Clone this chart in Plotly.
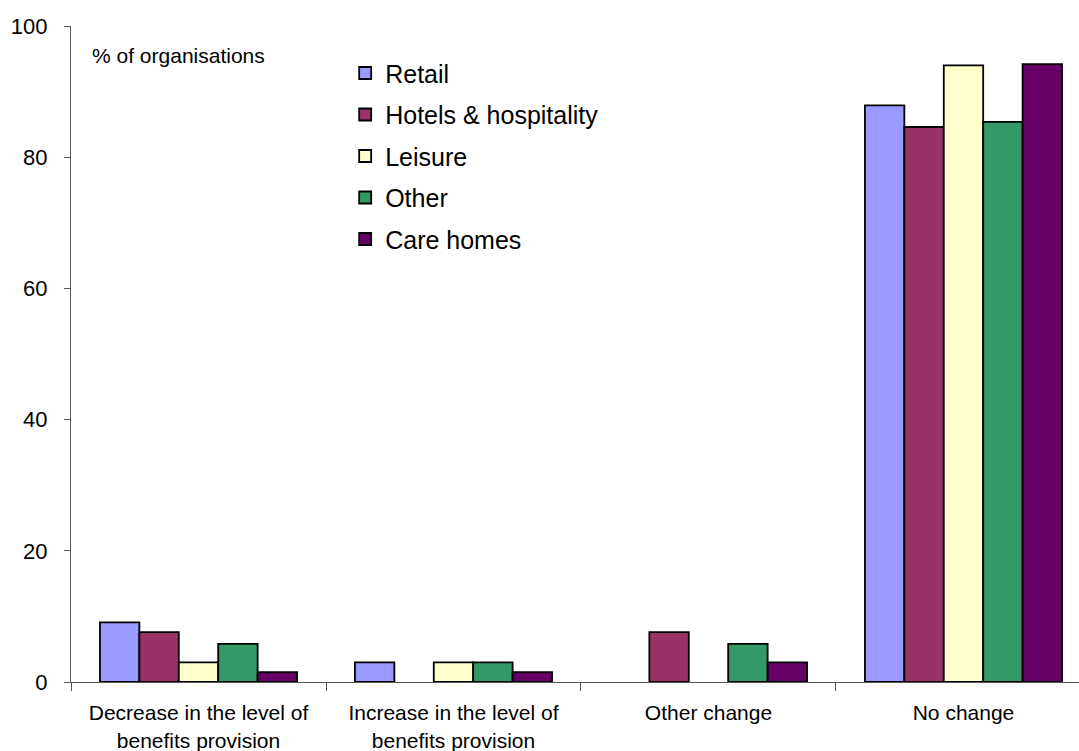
import plotly.graph_objects as go

categories = [
    "Decrease in the level of<br>benefits provision",
    "Increase in the level of<br>benefits provision",
    "Other change",
    "No change",
]
retail = [9.1, 3.0, 0.0, 87.9]
hotels = [7.6, 0.0, 7.6, 84.6]
leisure = [3.0, 3.0, 0.0, 94.0]
other = [5.8, 3.0, 5.8, 85.4]
care_homes = [1.5, 1.5, 3.0, 94.2]

series = [
    ("Retail", retail, "#9999FF"),
    ("Hotels & hospitality", hotels, "#993366"),
    ("Leisure", leisure, "#FFFFCC"),
    ("Other", other, "#339966"),
    ("Care homes", care_homes, "#660066"),
]

FONT = "Arial, Liberation Sans, sans-serif"

fig = go.Figure()
for i, (name, vals, col) in enumerate(series):
    # zero values are left empty so no flat outline is drawn on the axis
    fig.add_trace(go.Bar(
        name=name, x=categories, y=[v if v > 0 else None for v in vals],
        marker=dict(color=col, line=dict(color="black", width=1.8)),
        legendgroup=f"g{i}",
    ))

fig.update_layout(
    width=1079, height=751,
    margin=dict(l=71, r=0, t=26, b=69),
    plot_bgcolor="white", paper_bgcolor="white",
    barmode="group", bargap=0.227, bargroupgap=0,
    font=dict(family=FONT, color="black", size=20),
    showlegend=True,
    legend=dict(
        x=0.272, y=0.963, xanchor="left", yanchor="top",
        font=dict(size=25, family=FONT), tracegroupgap=6,
        bgcolor="rgba(0,0,0,0)", itemwidth=30,
    ),
    annotations=[dict(
        text="% of organisations", x=0.0188, y=0.955, xref="paper", yref="paper",
        showarrow=False, font=dict(size=21, family=FONT),
        xanchor="left", yanchor="middle",
    )],
)

fig.update_xaxes(
    range=[-0.5, 3.453], showline=True, linecolor="#555555", linewidth=1.2,
    ticks="outside", tickson="boundaries", ticklen=8, tickcolor="#555555",
    tickfont=dict(size=21, family=FONT), showgrid=False, zeroline=False,
    ticklabelstandoff=12,
)
fig.update_yaxes(
    range=[0, 100], tickvals=[0, 20, 40, 60, 80, 100],
    showline=True, linecolor="#555555", linewidth=1.2,
    ticks="outside", ticklen=6, tickcolor="#555555",
    tickfont=dict(size=22, family=FONT), showgrid=False, zeroline=False,
    ticklabelstandoff=12,
)

fig.write_html("out.html")
